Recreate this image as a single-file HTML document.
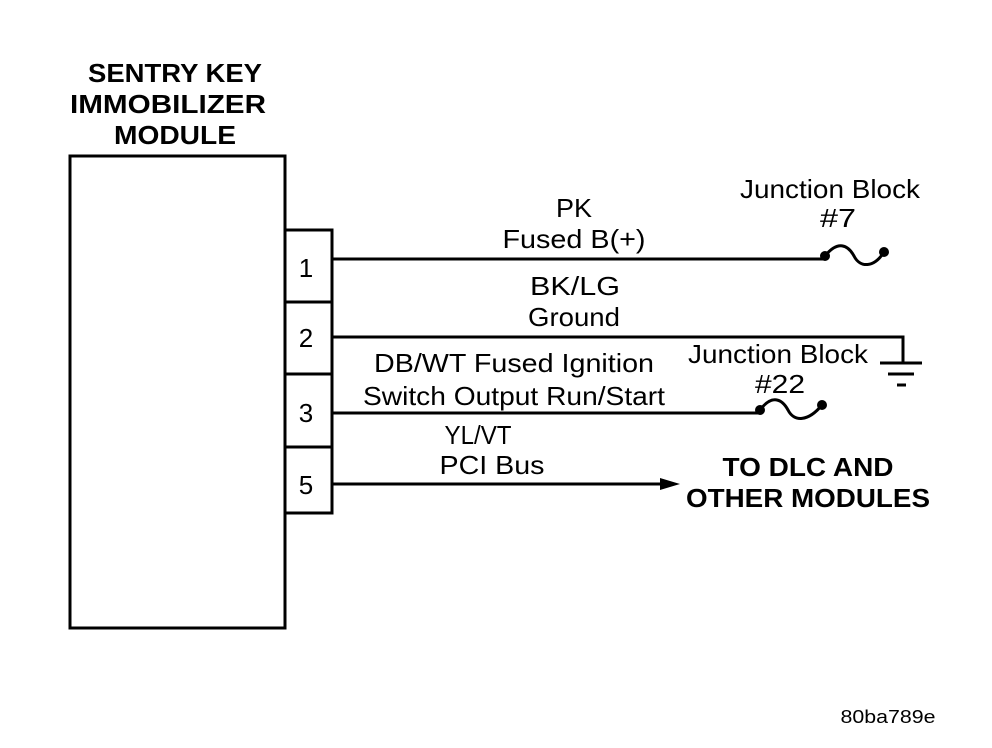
<!DOCTYPE html>
<html><head><style>
body{margin:0;background:#fff;}
svg{display:block}
text{font-family:"Liberation Sans",Arial,sans-serif;fill:#000}
</style></head><body>
<svg width="992" height="748" viewBox="0 0 992 748">
<g stroke="#000" stroke-width="3" fill="none">
<rect x="70" y="156" width="215" height="472"/>
<rect x="285" y="230" width="47" height="283"/>
<line x1="285" y1="302" x2="332" y2="302"/>
<line x1="285" y1="374" x2="332" y2="374"/>
<line x1="285" y1="447" x2="332" y2="447"/>
<line x1="332" y1="259" x2="825" y2="259"/>
<polyline points="332,337 903,337 903,362"/>
<line x1="880" y1="363" x2="922" y2="363"/>
<line x1="888" y1="374" x2="914" y2="374"/>
<line x1="897" y1="385" x2="906" y2="385"/>
<line x1="332" y1="413" x2="760" y2="413"/>
<line x1="332" y1="484" x2="665" y2="484"/>
<path d="M825,256 C838,240 848,245 854,256 C860,268 874,268 884,252"/>
<path d="M760,410 C772,394 782,399 788,410 C794,422 808,422 822,405"/>
</g>
<circle cx="825" cy="256" r="5"/><circle cx="884" cy="252" r="5"/>
<circle cx="760" cy="410" r="5"/><circle cx="822" cy="405" r="5"/>
<polygon points="680,484 660,478 660,490"/>
<g font-weight="bold" font-size="26" text-anchor="middle">
<text x="175" y="82" textLength="174" lengthAdjust="spacingAndGlyphs">SENTRY KEY</text>
<text x="168" y="113" textLength="196" lengthAdjust="spacingAndGlyphs">IMMOBILIZER</text>
<text x="175" y="144" textLength="122" lengthAdjust="spacingAndGlyphs">MODULE</text>
<text x="808" y="476" textLength="171" lengthAdjust="spacingAndGlyphs">TO DLC AND</text>
<text x="808" y="507" textLength="244" lengthAdjust="spacingAndGlyphs">OTHER MODULES</text>
</g>
<g font-size="26" text-anchor="middle">
<text x="306" y="277">1</text>
<text x="306" y="347">2</text>
<text x="306" y="422">3</text>
<text x="306" y="494">5</text>
<text x="574" y="217" textLength="36" lengthAdjust="spacingAndGlyphs">PK</text>
<text x="574" y="248" textLength="143" lengthAdjust="spacingAndGlyphs">Fused B(+)</text>
<text x="575" y="295" textLength="90" lengthAdjust="spacingAndGlyphs">BK/LG</text>
<text x="574" y="326" textLength="92" lengthAdjust="spacingAndGlyphs">Ground</text>
<text x="514" y="372" textLength="280" lengthAdjust="spacingAndGlyphs">DB/WT  Fused Ignition</text>
<text x="514" y="405" textLength="302" lengthAdjust="spacingAndGlyphs">Switch Output Run/Start</text>
<text x="478" y="444" textLength="67" lengthAdjust="spacingAndGlyphs">YL/VT</text>
<text x="492" y="474" textLength="105" lengthAdjust="spacingAndGlyphs">PCI Bus</text>
<text x="830" y="198" textLength="180" lengthAdjust="spacingAndGlyphs">Junction Block</text>
<text x="838" y="227" textLength="36" lengthAdjust="spacingAndGlyphs">#7</text>
<text x="778" y="363" textLength="180" lengthAdjust="spacingAndGlyphs">Junction Block</text>
<text x="780" y="393" textLength="50" lengthAdjust="spacingAndGlyphs">#22</text>
<text x="888" y="723" font-size="18" textLength="95" lengthAdjust="spacingAndGlyphs">80ba789e</text>
</g>
</svg>
</body></html>
